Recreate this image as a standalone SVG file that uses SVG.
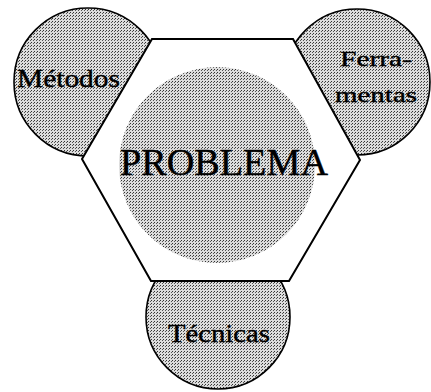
<svg xmlns="http://www.w3.org/2000/svg" width="431" height="392" viewBox="0 0 431 392">
<defs>
<pattern id="dots" width="3" height="3" patternUnits="userSpaceOnUse">
<rect width="3" height="3" fill="#dcdcdc"/>
<rect x="1" y="0" width="1" height="1" fill="#333"/>
<rect x="0" y="1" width="1" height="1" fill="#555"/>
</pattern>
<style>
.sat{fill:url(#dots);stroke:#000;stroke-width:1.6}
.hex{fill:#fff;stroke:#000;stroke-width:2}
.core{fill:url(#dots);stroke:none}
.lbl{font-family:"Liberation Serif","Times New Roman",serif;fill:#000;stroke:#000;stroke-width:0.4}
</style>
</defs>
<rect width="431" height="392" fill="#fff"/>
<g id="metodos">
<circle class="sat" cx="88" cy="82" r="74"/>
<text class="lbl" x="17" y="87" font-size="25" textLength="103" lengthAdjust="spacingAndGlyphs">Métodos</text>
</g>
<g id="ferramentas">
<circle class="sat" cx="357" cy="82" r="73"/>
<text class="lbl" x="340" y="66" font-size="21" textLength="72" lengthAdjust="spacingAndGlyphs">Ferra-</text>
<text class="lbl" x="335" y="102" font-size="21" textLength="82" lengthAdjust="spacingAndGlyphs">mentas</text>
</g>
<g id="tecnicas">
<circle class="sat" cx="218" cy="317" r="72"/>
<text class="lbl" x="168" y="342" font-size="25" textLength="102" lengthAdjust="spacingAndGlyphs">Técnicas</text>
</g>
<g id="problema">
<polygon class="hex" points="152,39 293,39 360,160 289,281 151,281 82,159"/>
<circle class="core" cx="217" cy="165" r="98"/>
<text class="lbl" x="120" y="175" font-size="37" textLength="208" lengthAdjust="spacingAndGlyphs">PROBLEMA</text>
</g>
</svg>
